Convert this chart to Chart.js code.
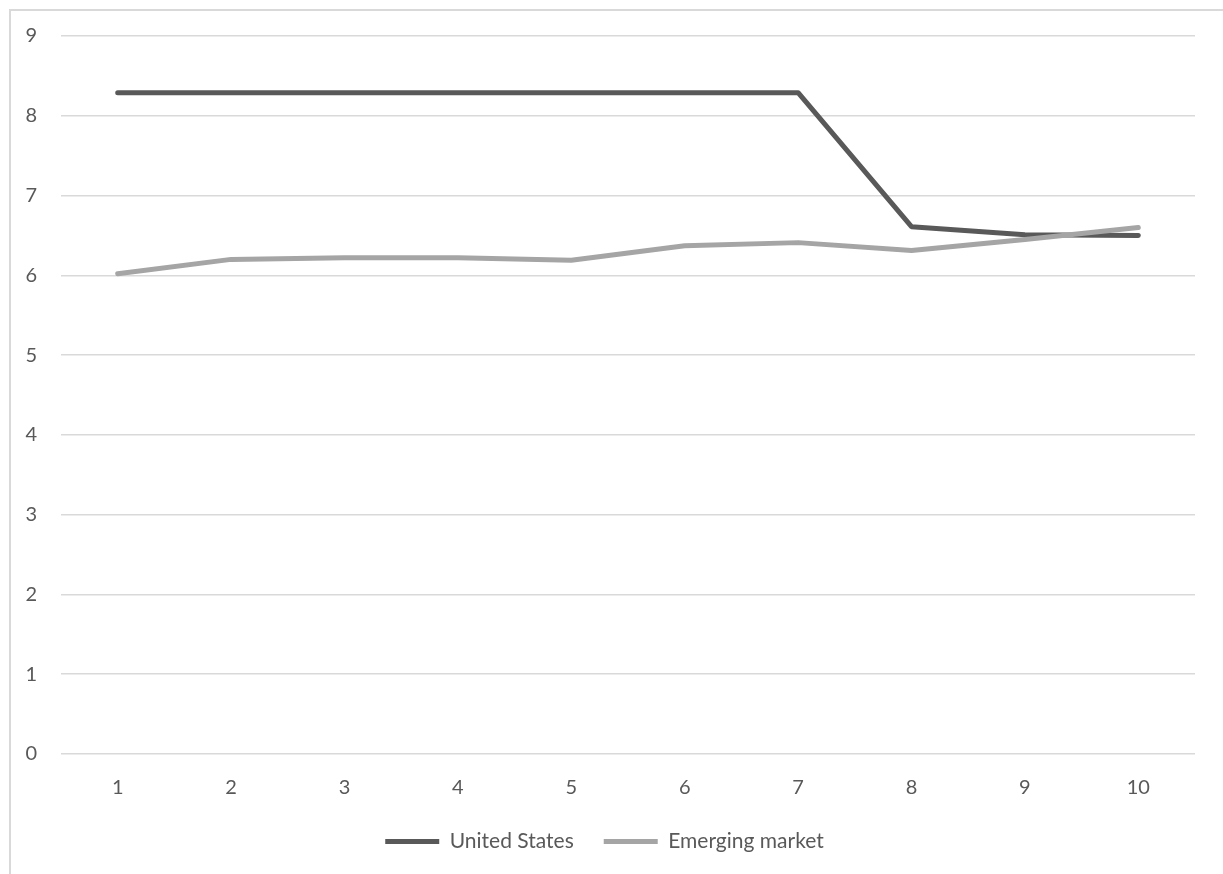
<!DOCTYPE html>
<html>
<head>
<meta charset="utf-8">
<script src="https://cdn.jsdelivr.net/npm/chart.js@4/dist/chart.umd.min.js"></script>
<style>
  html, body { margin: 0; padding: 0; background: #fff; overflow: hidden; }
  #frame {
    position: absolute; left: 9px; top: 9px; width: 1300px; height: 1000px;
    border-left: 2px solid #d9d9d9; border-top: 2px solid #d9d9d9;
  }
  #wrap { position: absolute; left: 0; top: 0; width: 1223px; height: 874px; }
</style>
</head>
<body>
<div id="frame"></div>
<div id="wrap"><canvas id="chart"></canvas></div>
<script>
// data
const categories = ['1', '2', '3', '4', '5', '6', '7', '8', '9', '10'];
const usValues = [8.29, 8.29, 8.29, 8.29, 8.29, 8.29, 8.29, 6.61, 6.51, 6.5];
const emergingMarket = [6.02, 6.2, 6.22, 6.22, 6.19, 6.37, 6.41, 6.31, 6.45, 6.6];
const yTicks = [0, 1, 2, 3, 4, 5, 6, 7, 8, 9];

(function(){
  const textColor = '#595959';
  const font = { family: 'Lato, "Open Sans", sans-serif', size: 20 };
  const legendFont = { family: 'Lato, "Open Sans", sans-serif', size: 21 };

  const ctx = document.getElementById('chart').getContext('2d');
  new Chart(ctx, {
    type: 'line',
    data: {
      labels: categories,
      datasets: [{
        label: 'United States',
        data: usValues,
        borderColor: '#595959',
        backgroundColor: '#595959',
        borderWidth: 5,
        borderCapStyle: 'round',
        borderJoinStyle: 'round',
        pointRadius: 0,
        tension: 0,
        order: 1
      }, {
        label: 'Emerging market',
        data: emergingMarket,
        borderColor: '#a5a5a5',
        backgroundColor: '#a5a5a5',
        borderWidth: 5,
        borderCapStyle: 'round',
        borderJoinStyle: 'round',
        pointRadius: 0,
        tension: 0,
        order: 0
      }]
    },
    options: {
      responsive: true,
      maintainAspectRatio: false,
      animation: false,
      layout: { padding: { top: 36, right: 28, bottom: 12, left: 14 } },
      plugins: {
        tooltip: { enabled: false },
        legend: {
          position: 'bottom',
          labels: {
            usePointStyle: true,
            pointStyle: 'line',
            pointStyleWidth: 54,
            color: textColor,
            font: legendFont,
            padding: 30,
            sort: function(a, b){ return a.datasetIndex - b.datasetIndex; }
          }
        }
      },
      scales: {
        x: {
          offset: true,
          grid: { display: false },
          border: { display: false },
          afterFit: function(scale){ scale.height -= 13; },
          ticks: { color: textColor, font: font, padding: 14, maxRotation: 0 }
        },
        y: {
          min: 0,
          max: 9,
          afterBuildTicks: function(scale){ scale.ticks = yTicks.map(function(v){ return { value: v }; }); },
          afterFit: function(scale){ scale.width = 47; },
          grid: { color: '#d9d9d9', lineWidth: 1.5, drawTicks: false },
          border: { display: false },
          ticks: { color: textColor, font: font, padding: 24 }
        }
      }
    }
  });
})();
</script>
</body>
</html>
